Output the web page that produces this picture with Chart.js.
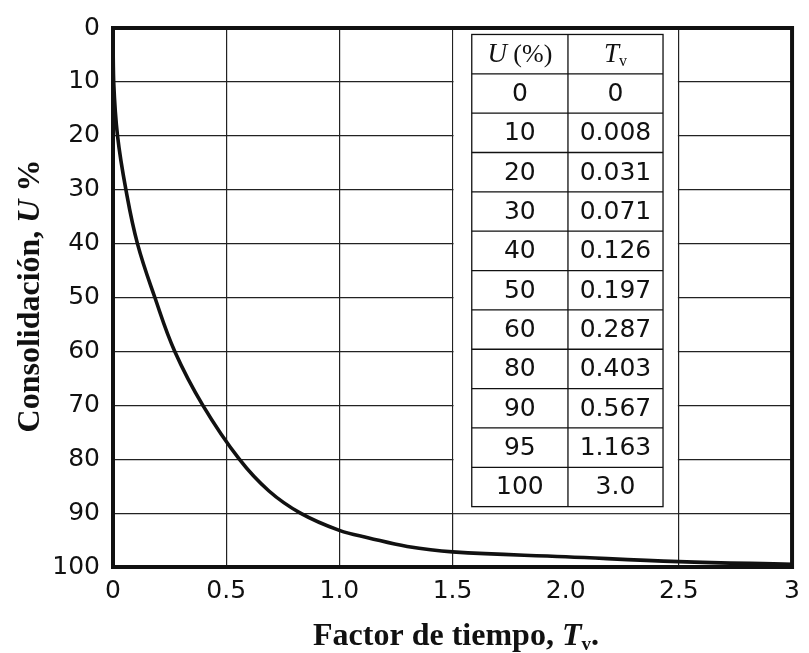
<!DOCTYPE html>
<html>
<head>
<meta charset="utf-8">
<script src="https://cdn.jsdelivr.net/npm/chart.js@4.4.0/dist/chart.umd.min.js"></script>
<style>
  html, body { margin: 0; padding: 0; background: #fff; }
  #wrap { width: 809px; height: 653px; }
</style>
</head>
<body>
<div id="wrap"><canvas id="consolidationChart"></canvas></div>
<script>
// Curve: time factor Tv vs degree of consolidation U (%)
const tvCurve = [0, 0.003, 0.020, 0.057, 0.108, 0.185, 0.273, 0.397, 0.558, 0.689, 0.828, 1.0, 1.13, 1.30, 1.5, 2.0, 2.5, 3.0];
const uCurve  = [0, 10, 20, 30, 40, 50, 60, 70, 80, 85.9, 90, 93.2, 94.6, 96.2, 97.2, 98.1, 99.0, 99.5];

// Inset table, as printed
const tableU  = ['0', '10', '20', '30', '40', '50', '60', '80', '90', '95', '100'];
const tableTv = ['0', '0.008', '0.031', '0.071', '0.126', '0.197', '0.287', '0.403', '0.567', '1.163', '3.0'];

const xTickLabels = ['0', '0.5', '1.0', '1.5', '2.0', '2.5', '3'];

const tickFont = "'DejaVu Sans', sans-serif";
const titleFont = "'Liberation Serif', serif";

// table placement, in axis units
const TABLE = { x0: 1.585, xMid: 2.01, x1: 2.43, top: 1.2, bottom: 88.8 };

const tablePlugin = {
    id: 'insetTable',
    beforeDatasetsDraw(chart) {
        const { ctx, scales: { x, y } } = chart;
        ctx.save();
        // white panel behind the table
        ctx.fillStyle = '#fff';
        const l = x.getPixelForValue(1.5) + 1, r = x.getPixelForValue(2.5) - 1;
        ctx.fillRect(l, y.getPixelForValue(0) + 1, r - l, y.getPixelForValue(90) - 1 - y.getPixelForValue(0));

        const x0 = x.getPixelForValue(TABLE.x0), xm = x.getPixelForValue(TABLE.xMid), x1 = x.getPixelForValue(TABLE.x1);
        const t = y.getPixelForValue(TABLE.top), b = y.getPixelForValue(TABLE.bottom);
        const rows = tableU.length + 1;
        const rh = (b - t) / rows;

        ctx.strokeStyle = '#111';
        ctx.lineWidth = 1.3;
        ctx.strokeRect(x0, t, x1 - x0, b - t);
        ctx.beginPath();
        ctx.moveTo(xm, t); ctx.lineTo(xm, b);
        for (let i = 1; i < rows; i++) {
            ctx.moveTo(x0, t + i * rh); ctx.lineTo(x1, t + i * rh);
        }
        ctx.stroke();

        const c1 = (x0 + xm) / 2, c2 = (xm + x1) / 2;
        ctx.fillStyle = '#111';
        ctx.textBaseline = 'middle';

        // header
        const hy = t + rh / 2 + 1;
        ctx.font = "italic 27px " + titleFont;
        const uW = ctx.measureText('U').width;
        ctx.font = "26px " + titleFont;
        const pW = ctx.measureText(' (%)').width;
        let sx = c1 - (uW + pW) / 2;
        ctx.textAlign = 'left';
        ctx.font = "italic 27px " + titleFont;
        ctx.fillText('U', sx, hy);
        ctx.font = "26px " + titleFont;
        ctx.fillText(' (%)', sx + uW, hy);

        ctx.font = "italic 27px " + titleFont;
        const tW = ctx.measureText('T').width;
        ctx.font = "16px " + titleFont;
        const vW = ctx.measureText('v').width;
        sx = c2 - (tW + vW) / 2;
        ctx.font = "italic 27px " + titleFont;
        ctx.fillText('T', sx, hy);
        ctx.font = "16px " + titleFont;
        ctx.fillText('v', sx + tW, hy + 7);

        // body
        ctx.textAlign = 'center';
        ctx.font = "25px " + tickFont;
        tableU.forEach((u, i) => {
            const cy = t + (i + 1.5) * rh + 1;
            ctx.fillText(u, c1, cy);
            ctx.fillText(tableTv[i], c2, cy);
        });
        ctx.restore();
    },
    afterDatasetsDraw(chart) {
        const { ctx, chartArea: a } = chart;
        ctx.save();
        ctx.strokeStyle = '#111';
        ctx.lineWidth = 4;
        ctx.strokeRect(a.left, a.top, a.right - a.left, a.bottom - a.top);
        ctx.restore();
    },
    afterDraw(chart) {
        const { ctx } = chart;
        ctx.save();
        ctx.fillStyle = '#111';
        ctx.textBaseline = 'alphabetic';
        ctx.textAlign = 'left';

        // y title
        const bold = "bold 32px " + titleFont, boldIt = "italic bold 32px " + titleFont;
        ctx.font = bold;
        const aW = ctx.measureText('Consolidación, ').width;
        const pW = ctx.measureText(' %').width;
        ctx.font = boldIt;
        const uW = ctx.measureText('U').width;
        ctx.translate(39, 296);
        ctx.rotate(-Math.PI / 2);
        let sx = -(aW + uW + pW) / 2;
        ctx.font = bold; ctx.fillText('Consolidación, ', sx, 0);
        ctx.font = boldIt; ctx.fillText('U', sx + aW, 0);
        ctx.font = bold; ctx.fillText(' %', sx + aW + uW, 0);
        ctx.setTransform(1, 0, 0, 1, 0, 0);

        // x title
        ctx.font = bold;
        const fW = ctx.measureText('Factor de tiempo, ').width;
        ctx.font = boldIt;
        const tW = ctx.measureText('T').width;
        ctx.font = "bold 19px " + titleFont;
        const vW = ctx.measureText('v').width;
        ctx.font = bold;
        const dW = ctx.measureText('.').width;
        sx = 456 - (fW + tW + vW + dW) / 2;
        const by = 645;
        ctx.font = bold; ctx.fillText('Factor de tiempo, ', sx, by);
        ctx.font = boldIt; ctx.fillText('T', sx + fW, by);
        ctx.font = "bold 19px " + titleFont; ctx.fillText('v', sx + fW + tW, by + 5);
        ctx.font = bold; ctx.fillText('.', sx + fW + tW + vW, by);
        ctx.restore();
    }
};

const points = tvCurve.map((tv, i) => ({ x: tv, y: uCurve[i] }));

new Chart(document.getElementById('consolidationChart'), {
    type: 'line',
    data: {
        datasets: [{
            data: points,
            borderColor: '#111',
            borderWidth: 3.6,
            pointRadius: 0,
            fill: false,
            tension: 0.4
        }]
    },
    options: {
        responsive: true,
        maintainAspectRatio: false,
        animation: false,
        layout: { padding: { top: 21, right: 12, bottom: 0, left: 0 } },
        plugins: {
            legend: { display: false },
            tooltip: { enabled: false }
        },
        scales: {
            x: {
                type: 'linear',
                min: 0,
                max: 3,
                afterFit: (s) => { s.height = 86; },
                border: { display: false },
                grid: {
                    drawTicks: false,
                    lineWidth: 1.2,
                    color: (c) => (c.tick && c.tick.value === 2) ? 'rgba(0,0,0,0)' : '#222'
                },
                ticks: {
                    stepSize: 0.5,
                    padding: 9,
                    color: '#111',
                    font: { size: 25, family: tickFont },
                    callback: (v, i) => xTickLabels[i]
                }
            },
            y: {
                min: 0,
                max: 100,
                reverse: true,
                afterFit: (s) => { s.width = 113; },
                border: { display: false },
                grid: { drawTicks: false, lineWidth: 1.2, color: '#222' },
                ticks: {
                    stepSize: 10,
                    padding: 13,
                    color: '#111',
                    font: { size: 25, family: tickFont }
                }
            }
        }
    },
    plugins: [tablePlugin]
});
</script>
</body>
</html>
